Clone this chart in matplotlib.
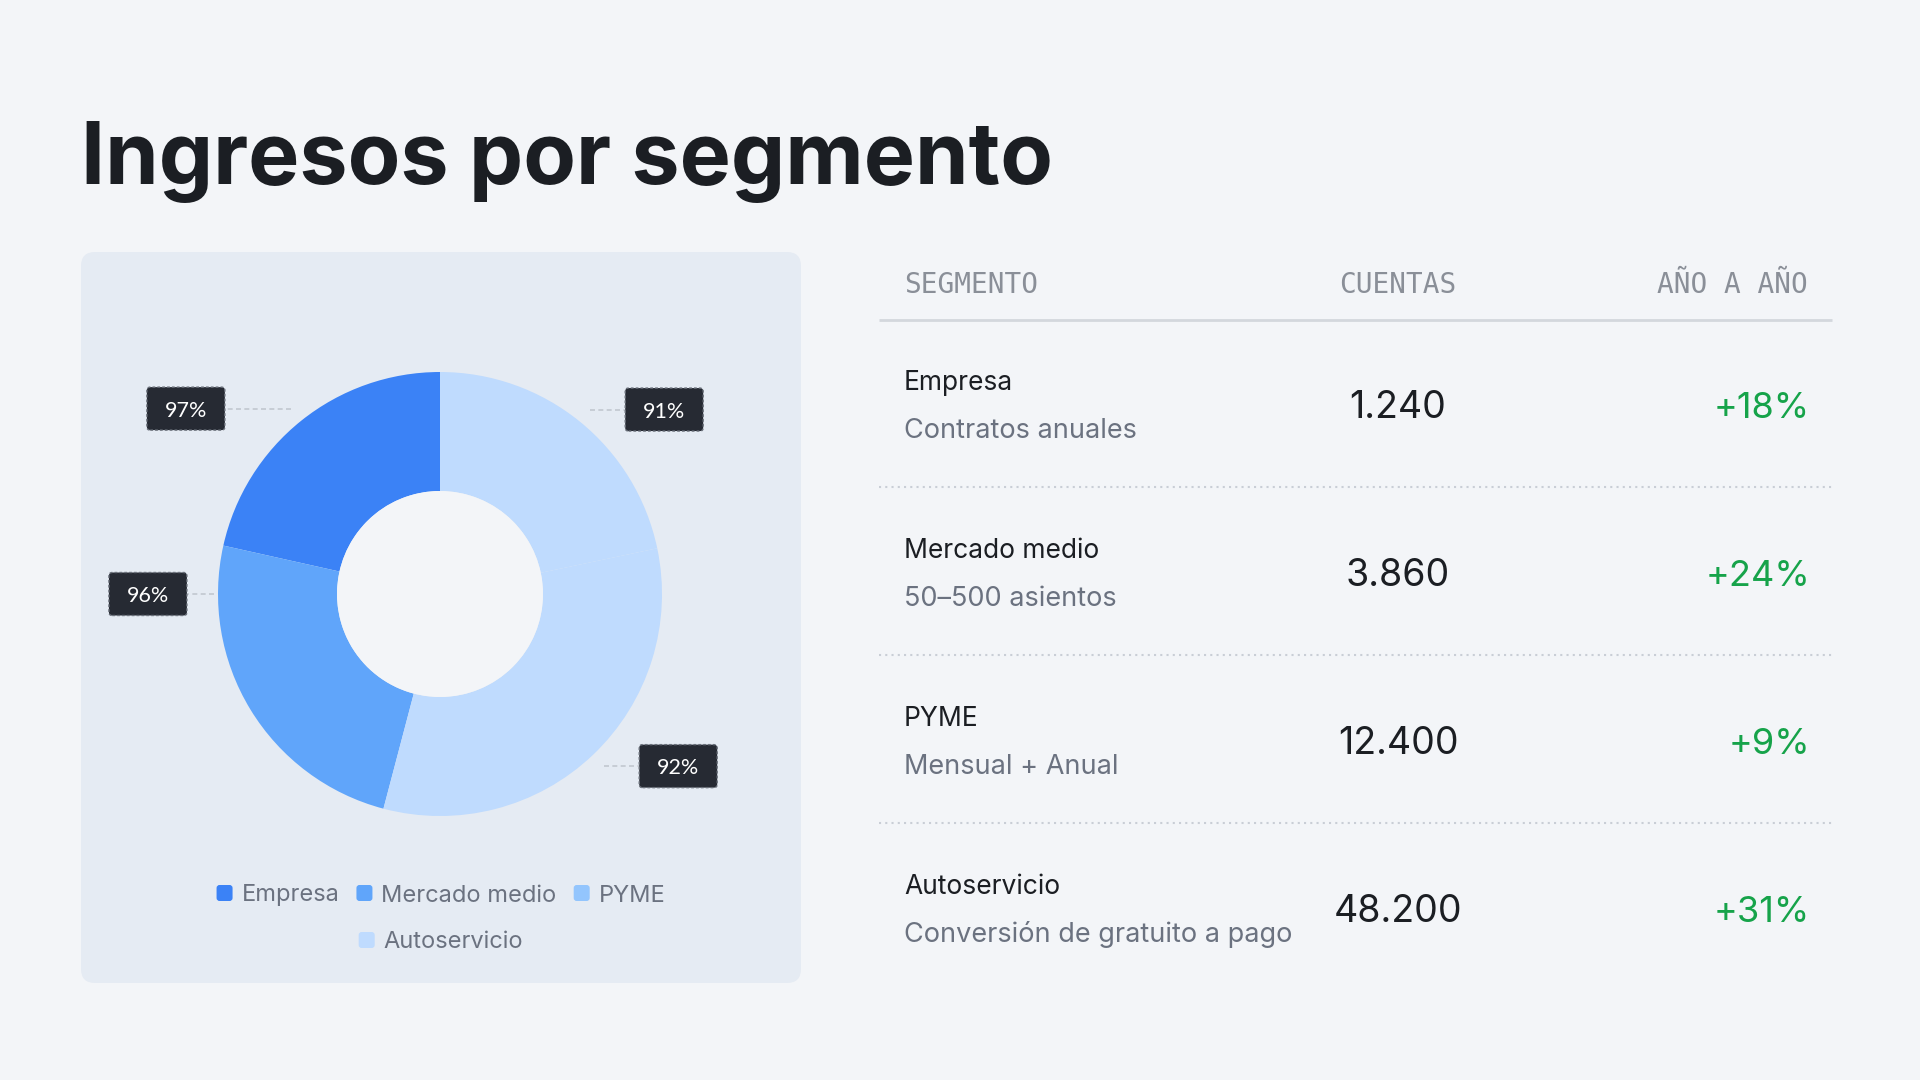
import matplotlib
matplotlib.use("Agg")
import matplotlib.pyplot as plt
from matplotlib.patches import FancyBboxPatch, Circle
import numpy as np

# ---------------- data ----------------
segments = ["Empresa", "Mercado medio", "PYME", "Autoservicio"]
subtitles = ["Contratos anuales", "50–500 asientos", "Mensual + Anual", "Conversión de gratuito a pago"]
share = [21.5, 24.4, 32.4, 21.7]           # donut slice sizes
retention_labels = ["97%", "96%", "92%", "91%"]
accounts = ["1.240", "3.860", "12.400", "48.200"]
yoy = ["+18%", "+24%", "+9%", "+31%"]
headers = ["SEGMENTO", "CUENTAS", "AÑO A AÑO"]
title = "Ingresos por segmento"

# ---------------- style ----------------
PAGE = "#f3f5f8"
PANEL = "#e5ebf3"
legend_colors = ["#3b82f6", "#60a5fa", "#93c5fd", "#bfdbfe"]
slice_colors = ["#3b82f6", "#60a5fa", "#bfdbfe", "#bfdbfe"]
DARK = "#1b1e23"
GRAY = "#6b7280"
HEAD = "#8a8f98"
GREEN = "#16a34a"
SANS = ["Inter", "DejaVu Sans"]
MONO = ["DejaVu Sans Mono"]

W, H = 1920, 1080
fig = plt.figure(figsize=(W / 100, H / 100), dpi=100, facecolor=PAGE)
bg = fig.add_axes([0, 0, 1, 1])
bg.set_xlim(0, W)
bg.set_ylim(H, 0)
bg.axis("off")

# title
bg.text(81, 184, title, fontsize=62, fontweight="bold", color=DARK,
        family=SANS, va="baseline", ha="left")

# panel
panel = FancyBboxPatch((81, 252), 720, 731, boxstyle="round,pad=0,rounding_size=14",
                       fc=PANEL, ec="none")
bg.add_patch(panel)

# ---------------- donut ----------------
cx, cy, R = 440, 594, 222
half = 330
dax = fig.add_axes([(cx - half) / W, 1 - (cy + half) / H, 2 * half / W, 2 * half / H])
lim = half / R
dax.set_xlim(-lim, lim)
dax.set_ylim(-lim, lim)
dax.set_aspect("equal")
dax.axis("off")
inner = 103 / R
wedges, _ = dax.pie(share, colors=slice_colors, startangle=90, counterclock=True,
                    radius=1, wedgeprops=dict(width=1 - inner, linewidth=0),
                    normalize=True)
dax.add_patch(Circle((0, 0), inner, fc=PAGE, ec="none", zorder=3))
dax.set_xlim(-lim, lim)
dax.set_ylim(-lim, lim)

# label layout (tweaks so the callouts sit like the reference)
angle_override = {1: 180.0}
radius_override = {1: 1.02}
gap_override = {0: 0.30, 1: 0.12}
for i, w in enumerate(wedges):
    mid = (w.theta1 + w.theta2) / 2
    mid = angle_override.get(i, mid)
    a = np.deg2rad(mid)
    r_anchor = radius_override.get(i, 1.07)
    ax0, ay0 = r_anchor * np.cos(a), r_anchor * np.sin(a)
    side = 1 if np.cos(a) >= 0 else -1
    gap = gap_override.get(i, 0.16)
    x1 = ax0 + side * gap
    dax.plot([ax0, x1], [ay0, ay0], color="#c2c8d0", lw=1.2, ls=(0, (3, 2)),
             zorder=4, clip_on=False)
    bw, bh = 78 / R, 43 / R
    bx = x1 if side > 0 else x1 - bw
    box = FancyBboxPatch((bx, ay0 - bh / 2), bw, bh,
                         boxstyle="round,pad=0,rounding_size=0.015",
                         fc="#262a33", ec="#6b717b", lw=1.0, ls=(0, (2, 1.5)),
                         zorder=5, clip_on=False)
    dax.add_patch(box)
    dax.text(bx + bw / 2, ay0, retention_labels[i], color="white", fontsize=15.5,
             family=["Lato", "DejaVu Sans"], ha="center", va="center_baseline",
             zorder=6, clip_on=False)

# legend (centered in panel, two rows)
leg_fs = 17
panel_cx = 81 + 720 / 2
rows = [[0, 1, 2], [3]]
row_y = [893, 940]
sq = 16
gap_sq = 9
gap_item = 17
renderer = fig.canvas.get_renderer()
for r, items in enumerate(rows):
    widths = []
    for i in items:
        t = bg.text(0, 0, segments[i], fontsize=leg_fs, family=SANS)
        bb = t.get_window_extent(renderer=renderer)
        widths.append(bb.width)
        t.remove()
    total = sum(sq + gap_sq + w for w in widths) + gap_item * (len(items) - 1)
    x = panel_cx - total / 2
    for i, wdt in zip(items, widths):
        bg.add_patch(FancyBboxPatch((x, row_y[r] - sq / 2), sq, sq,
                                    boxstyle="round,pad=0,rounding_size=3",
                                    fc=legend_colors[i], ec="none"))
        bg.text(x + sq + gap_sq, row_y[r], segments[i], fontsize=leg_fs, family=SANS,
                color=GRAY, va="center_baseline", ha="left")
        x += sq + gap_sq + wdt + gap_item

# ---------------- table ----------------
tx0, tx1 = 879, 1832
col_left = 904
col_mid = 1398
col_right = 1810
head_base = 293
bg.text(col_left, head_base, headers[0], fontsize=20, family=MONO, color=HEAD, va="baseline", ha="left")
bg.text(col_mid, head_base, headers[1], fontsize=20, family=MONO, color=HEAD, va="baseline", ha="center")
bg.text(col_right - 2, head_base, headers[2], fontsize=20, family=MONO, color=HEAD, va="baseline", ha="right")
bg.plot([tx0, tx1], [320, 320], color="#d3d7dd", lw=2, solid_capstyle="butt")

row_h = 168
for i in range(len(segments)):
    off = i * row_h
    bg.text(col_left, 390 + off, segments[i], fontsize=19, family=SANS, color=DARK,
            va="baseline", ha="left")
    bg.text(col_left, 438 + off, subtitles[i], fontsize=19.5, family=SANS, color=GRAY,
            va="baseline", ha="left")
    bg.text(col_mid, 418 + off, accounts[i], fontsize=27, family=SANS, color=DARK,
            va="baseline", ha="center")
    bg.text(col_right, 418 + off, yoy[i], fontsize=26, family=SANS, color=GREEN,
            va="baseline", ha="right")
    if i < len(segments) - 1:
        yl = 487 + off
        bg.plot([tx0, tx1], [yl, yl], color="#c9ced6", lw=1.5, ls=(0, (1, 2)))

fig.savefig("out.png", dpi=100, facecolor=PAGE)
